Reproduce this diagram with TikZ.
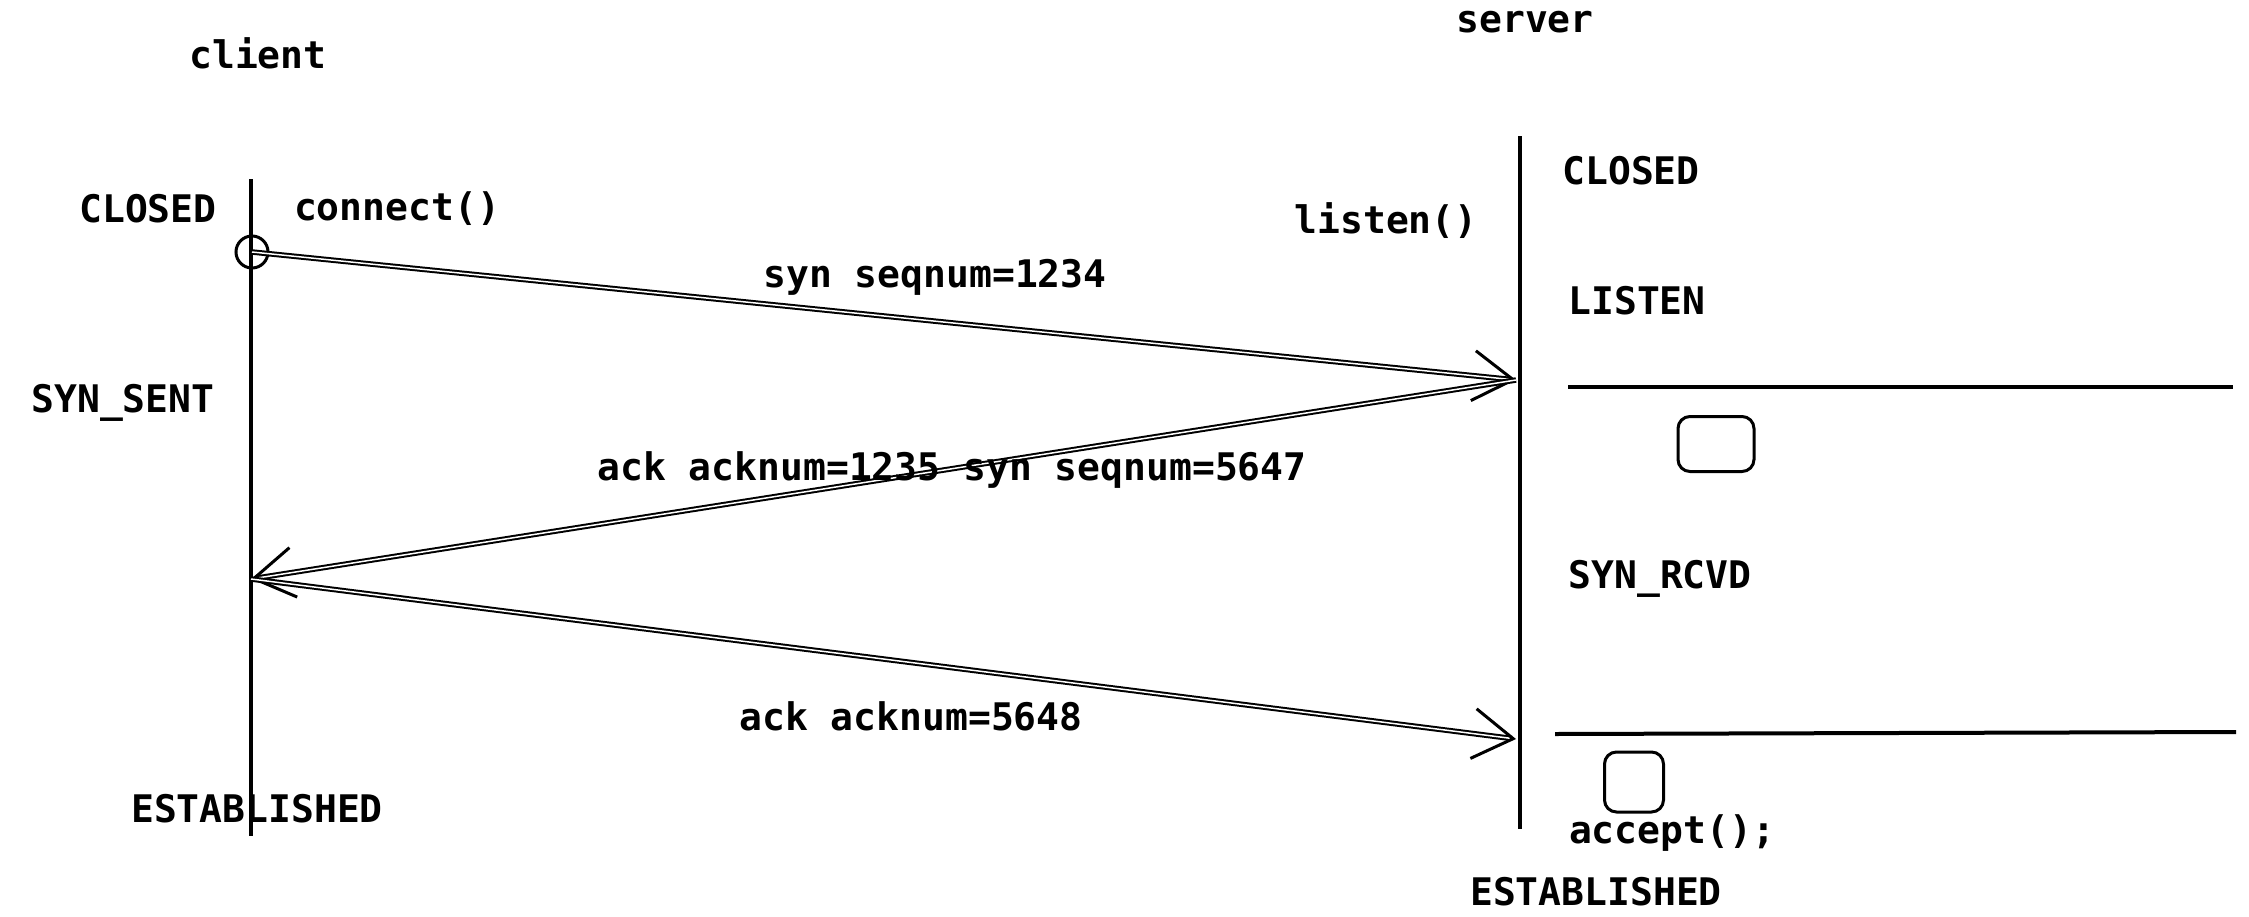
\documentclass[tikz,border=0pt]{standalone}
\usepackage{fontspec}
\setmonofont{DejaVu Sans Mono}
\usetikzlibrary{arrows.meta,positioning}

\begin{document}
\begin{tikzpicture}[x=1pt, y=-1pt,
  every node/.style={font=\ttfamily\bfseries\fontsize{38}{40}\selectfont, inner sep=0pt},
  life/.style={line width=4pt},
  msg/.style={-{Straight Barb[length=40pt,width=50pt,line width=3pt]},
              double, line width=2pt, double distance=1.5pt},
  sep/.style={line width=4pt},
  slot/.style={draw, rounded corners=12pt, line width=3pt},
]
\useasboundingbox (0,0) rectangle (2249,916);

% lifelines
\node (cli) at (258,53)   {client};
\node (srv) at (1525,22)  {server};
\coordinate (ctop) at (251,179);
\coordinate (cbot) at (251,836);
\coordinate (stop) at (1520,136);
\coordinate (sbot) at (1520,829);
\draw[life] (ctop) -- (cbot);
\draw[life] (stop) -- (sbot);

% client side
\node (cclosed) at (148,209) {CLOSED};
\node (conn)    at (397,209) {connect()};
\node (csent)   at (123,403) {SYN\_SENT};
\node (cest)    at (257,809) {ESTABLISHED};
\node[draw, circle, line width=3pt, minimum size=32pt] (start) at (252,252) {};
\coordinate (c2) at (251,579);

% server side
\node (lsn)     at (1386,221) {listen()};
\node (sclosed) at (1631,171) {CLOSED};
\node (slisten) at (1637,301) {LISTEN};
\node (srcvd)   at (1660,579) {SYN\_RCVD};
\node (acc)     at (1672,833) {accept();};
\node (sest)    at (1596,892) {ESTABLISHED};
\coordinate (s1) at (1516,380);
\coordinate (s3) at (1516,739);

% queues
\coordinate (q1a) at (1568,387);
\coordinate (q1b) at (2233,387);
\coordinate (q2a) at (1555,734);
\coordinate (q2b) at (2236,732);
\draw[sep] (q1a) -- (q1b);
\draw[sep] (q2a) -- (q2b);
\node[slot, minimum width=76pt, minimum height=55pt] (syn) at (1716,444) {};
\node[slot, minimum width=59pt, minimum height=60pt] (est) at (1634,782) {};

% handshake
\draw[msg] (start.center) -- (s1);
\draw[msg] (s1) -- (c2);
\draw[msg] (c2) -- (s3);
\node (m1) at (935,277) {syn seqnum=1234};
\node (m2) at (952,470) {ack acknum=1235 syn seqnum=5647};
\node (m3) at (911,716) {ack acknum=5648};
\end{tikzpicture}
\end{document}
